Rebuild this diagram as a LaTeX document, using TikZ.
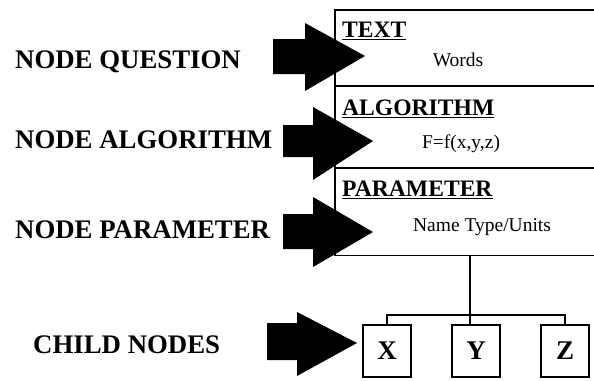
\documentclass[tikz,border=0pt]{standalone}
\usepackage{fontspec}
\setmainfont{Liberation Serif}
\begin{document}
\begin{tikzpicture}[x=1pt,y=-1pt,
  sect/.style={minimum width=290pt, anchor=north west, inner sep=0pt},
  frame/.style={line width=1.4pt},
  lbl/.style={font=\fontsize{26.8}{29}\selectfont\bfseries, anchor=west, inner sep=0pt},
  head/.style={font=\fontsize{23.6}{26}\selectfont\bfseries, anchor=west, inner sep=0pt},
  body/.style={font=\fontsize{19.5}{22}\selectfont, inner sep=0pt},
  child/.style={draw, line width=1.4pt, minimum width=48pt, minimum height=52pt, inner sep=0pt, font=\fontsize{27}{29}\selectfont\bfseries},
  conn/.style={line width=1.2pt},
  pointer/.style={fill=black}]
\useasboundingbox (0,0) rectangle (594,380);
\clip (0,0) rectangle (594,380);
% sections (open to the right)
\node[sect, minimum height=76pt] (q) at (335,10) {};
\node[sect, minimum height=82pt] (a) at (335,86) {};
\node[sect, minimum height=87pt] (p) at (335,168) {};
\draw[frame] (q.north east) -- (q.north west) -- (p.south west) -- (p.south east);
\draw[frame] (a.north west) -- (a.north east);
\draw[frame] (p.north west) -- (p.north east);
% headings
\node[head] (qh) at (342,31) {\underline{TEXT}};
\node[head] (ah) at (342,109) {\underline{ALGORITHM}};
\node[head] (ph) at (342,190) {\underline{PARAMETER}};
\node[body] (qb) at (458,60) {Words};
\node[body] (ab) at (461,144) {F=f(x,y,z)};
\node[body] (pb) at (482,227) {Name Type/Units};
% children
\node[child] (xb) at (387,351) {X};
\node[child] (yb) at (476,351) {Y};
\node[child] (zb) at (565,351) {Z};
\coordinate (top) at (470,255);
\coordinate (fork) at (470,315);
\draw[conn] (top) -- (fork);
\draw[conn] (xb.north) |- (fork) -| (zb.north);
\draw[conn] (fork) -- (fork |- yb.north);
% left labels
\node[lbl] (l1) at (15,62) {NODE QUESTION};
\node[lbl] (l2) at (15,140) {NODE ALGORITHM};
\node[lbl] (l3) at (15,230) {NODE PARAMETER};
\node[lbl] (l4) at (33,345) {CHILD NODES};
% block arrows
\fill[pointer] (273,39) -- (305,39) -- (305,23) -- (365,56) -- (305,91) -- (305,74) -- (273,74) -- cycle;
\fill[pointer] (283,125) -- (313,125) -- (313,107) -- (373,141) -- (313,180) -- (313,157) -- (283,157) -- cycle;
\fill[pointer] (283,214) -- (313,214) -- (313,197) -- (373,232) -- (313,267) -- (313,249) -- (283,249) -- cycle;
\fill[pointer] (267,323) -- (297,323) -- (297,312) -- (357,343) -- (297,376) -- (297,360) -- (267,360) -- cycle;
\end{tikzpicture}
\end{document}
